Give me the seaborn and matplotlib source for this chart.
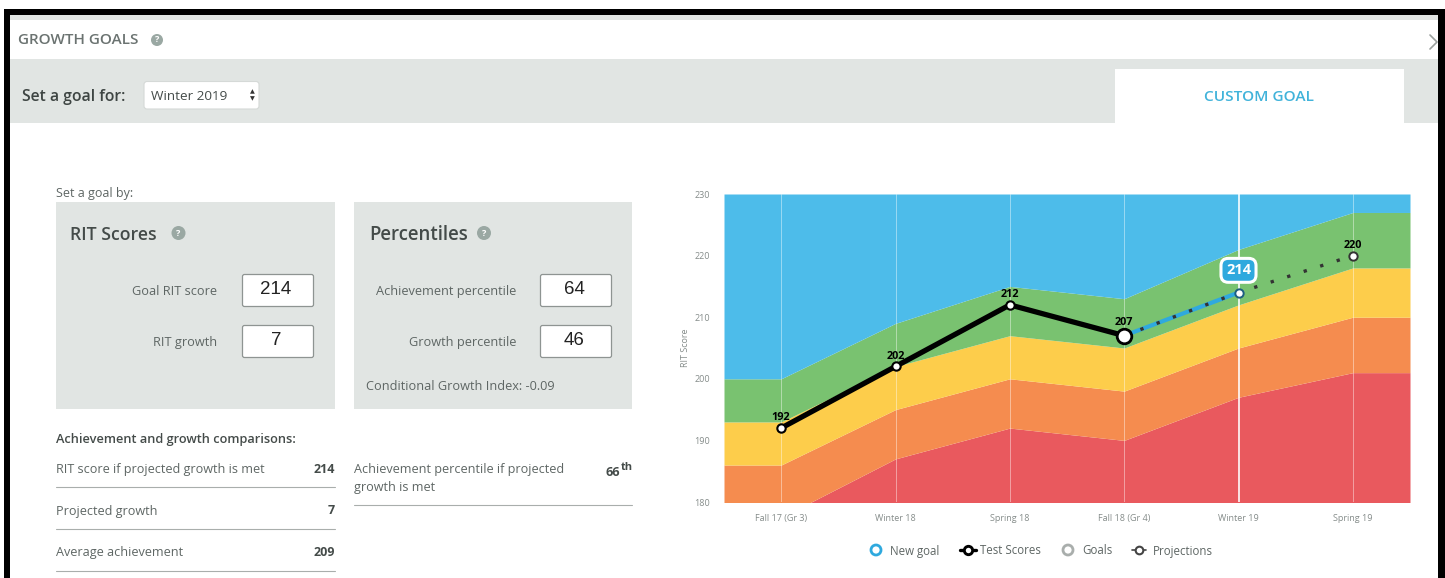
import numpy as np
import matplotlib
matplotlib.use("Agg")
import matplotlib.pyplot as plt
from matplotlib.patches import Rectangle, FancyBboxPatch, Circle
import seaborn as sns

sns.set_style("white")
plt.rcParams['font.family'] = ['Open Sans', 'DejaVu Sans']

# chart data
terms = ["Fall 17 (Gr 3)", "Winter 18", "Spring 18", "Fall 18 (Gr 4)", "Winter 19", "Spring 19"]
red_top = [177.5, 187, 192, 190, 197, 201]
orange_top = [186, 195, 200, 198, 205, 210]
yellow_top = [193, 202, 207, 205, 212, 218]
green_top = [200, 209, 215, 213, 221, 227]
blue_top = [230, 230, 230, 230, 230, 230]
band_colors = ["#E9595E", "#F58C4F", "#FDCD4B", "#79C270", "#4DBCEA"]
test_scores = [192, 202, 212, 207]
goal_scores = [207, 214]
projection_scores = [207, 214, 220]
y_ticks = [180, 190, 200, 210, 220, 230]

# panel text
comparisons_left = [("RIT score if projected growth is met", "214"),
                    ("Projected growth", "7"),
                    ("Average achievement", "209")]
legend_labels = ["New goal", "Test Scores", "Goals", "Projections"]

W, H = 1445, 578
fig = plt.figure(figsize=(W / 100, H / 100), dpi=100, facecolor="white")

# page layer in pixel coordinates
ui = fig.add_axes([0, 0, 1, 1])
ui.set_xlim(0, W)
ui.set_ylim(H, 0)
ui.axis("off")

GREY = "#E1E5E3"
TXT = "#5E6664"


def box(x0, y0, x1, y1, color, **kw):
    ui.add_patch(Rectangle((x0, y0), x1 - x0, y1 - y0, facecolor=color, edgecolor="none", **kw))


def help_icon(x, y, r=6):
    ui.add_patch(Circle((x, y), r, facecolor="#9AA8A3", edgecolor="none"))
    ui.text(x, y, "?", color="white", fontsize=6.5, fontweight="bold", ha="center", va="center")


def input_box(x0, y0, x1, y1, label):
    ui.add_patch(FancyBboxPatch((x0 + 0.5, y0 + 0.5), x1 - x0 - 1, y1 - y0 - 1, boxstyle="round,pad=0,rounding_size=2",
                                facecolor="white", edgecolor="#8E9492", linewidth=0.9))
    ui.text((x0 + x1) / 2 - 2, (y0 + y1) / 2 - 1, label, fontsize=13.5, color="#222222", ha="center", va="center",
            family="Liberation Sans")


# top bars
box(0, 15, W, 20, GREY)
box(0, 59, W, 123, GREY)
box(1115, 69, 1404, 123, "white")

ui.text(18, 40, "GROWTH GOALS", fontsize=11, fontweight="semibold", color="#6B7371", va="center")
help_icon(157, 40)
ui.plot([1430, 1437, 1430], [35, 42, 49], color="#9A9F9D", lw=1.2)
ui.text(22, 97, "Set a goal for:", fontsize=11.3, fontweight="semibold", color="#3E4543", va="center")
ui.add_patch(FancyBboxPatch((144, 81.5), 115, 27.5, boxstyle="round,pad=0,rounding_size=3",
                            facecolor="white", edgecolor="#D5D9D7", linewidth=0.8))
ui.text(151, 96, "Winter 2019", fontsize=9.7, color="#444B49", va="center")
ui.text(252, 91.5, "▲", fontsize=4.5, color="#333333", ha="center", va="center", family="DejaVu Sans")
ui.text(252, 99, "▼", fontsize=4.5, color="#333333", ha="center", va="center", family="DejaVu Sans")
ui.text(1259, 97, "CUSTOM GOAL", fontsize=11.1, fontweight="semibold", color="#41B3DA", ha="center", va="center")

# goal panels
ui.text(56, 194, "Set a goal by:", fontsize=9, color="#5E6664", va="center")
box(56, 202, 335, 409, GREY)
box(354, 202, 632, 409, GREY)
ui.text(70, 234.5, "RIT Scores", fontsize=12.7, fontweight="semibold", color="#444B49", va="center")
help_icon(178.5, 233, 7)
ui.text(369, 234.5, "Percentiles", fontsize=13.4, fontweight="semibold", color="#444B49", va="center")
help_icon(484, 233, 7)

ui.text(217.5, 291.5, "Goal RIT score", fontsize=9.2, color=TXT, ha="right", va="center")
ui.text(217.5, 342.5, "RIT growth", fontsize=9.2, color=TXT, ha="right", va="center")
ui.text(516, 291.5, "Achievement percentile", fontsize=9.2, color=TXT, ha="right", va="center")
ui.text(516, 342.5, "Growth percentile", fontsize=9.2, color=TXT, ha="right", va="center")
input_box(242, 274, 314, 307, "214")
input_box(242, 325, 314, 358, "7")
input_box(540, 274, 612, 307, "64")
input_box(540, 325, 612, 358, "46")
ui.text(366, 386.5, "Conditional Growth Index: -0.09", fontsize=9.2, color=TXT, va="center")

# comparison table
ui.text(56, 439, "Achievement and growth comparisons:", fontsize=9.2, fontweight="semibold", color="#444B49", va="center")
for (label, value), y_text, y_rule in zip(comparisons_left, [469.5, 511, 552.5], [487, 529, 571]):
    ui.text(56, y_text, label, fontsize=9.1, color=TXT, va="center")
    ui.text(335, y_text, value, fontsize=9, fontweight="bold", color="#444B49", ha="right", va="center")
    ui.plot([56, 335], [y_rule, y_rule], color="#A9AEAC", lw=0.8)
ui.text(354, 469.5, "Achievement percentile if projected", fontsize=9.1, color=TXT, va="center")
ui.text(354, 487, "growth is met", fontsize=9.1, color=TXT, va="center")
ui.text(606, 472, "66", fontsize=9, fontweight="bold", color="#444B49", va="center")
ui.text(621, 468, "th", fontsize=8, fontweight="bold", color="#444B49", va="center")
ui.plot([354, 632], [505, 505], color="#A9AEAC", lw=0.8)

# legend row
ui.add_patch(Circle((876, 550), 5, facecolor="white", edgecolor="#2FA9DE", linewidth=2))
ui.text(890, 551, legend_labels[0], fontsize=8.3, color=TXT, va="center")
ui.plot([960, 976], [550, 550], color="black", lw=2.4)
ui.plot([968], [550], marker="o", ms=6, mfc="white", mec="black", mew=2.1)
ui.text(980, 551, legend_labels[1], fontsize=8.3, color=TXT, va="center")
ui.add_patch(Circle((1068, 550), 5, facecolor="white", edgecolor="#A9AEAC", linewidth=2))
ui.text(1082, 551, legend_labels[2], fontsize=8.3, color=TXT, va="center")
ui.plot([1132, 1146], [550, 550], color="#444444", lw=1.2)
ui.plot([1139], [550], marker="o", ms=5.5, mfc="white", mec="#444444", mew=1.5)
ui.text(1153, 551, legend_labels[3], fontsize=8.3, color=TXT, va="center")

# chart
ax = fig.add_axes([724 / W, 1 - 502 / H, 686 / W, 308 / H])
x = np.arange(len(terms))
x_edge = np.r_[x[0] - 0.5, x, x[-1] + 0.5]


def edged(values):
    return np.r_[values[0], values, values[-1]]


lower = np.full(len(x_edge), 170.0)
for top, color in zip([red_top, orange_top, yellow_top, green_top, blue_top], band_colors):
    upper = edged(top)
    ax.fill_between(x_edge, lower, upper, color=color, lw=0, zorder=1)
    lower = upper

for i in x:
    ax.axvline(i, color="white", lw=1.3 if i == 4 else 0.6, alpha=0.9 if i == 4 else 0.5, zorder=2)

sns.lineplot(x=x[3:5], y=goal_scores, ax=ax, color="#2FA9DE", lw=3, zorder=3)
sns.lineplot(x=x[3:], y=projection_scores, ax=ax, color="#333333", lw=2.4, zorder=4,
             linestyle=(0, (1, 4.2)))
sns.lineplot(x=x[:4], y=test_scores, ax=ax, color="black", lw=3.8, zorder=5)

ax.plot(x[:3], test_scores[:3], ls="none", marker="o", ms=6, mfc="white", mec="black", mew=1.5, zorder=6)
ax.plot(x[3], test_scores[3], ls="none", marker="o", ms=10.5, mfc="white", mec="black", mew=2, zorder=6)
ax.plot(x[4], goal_scores[1], ls="none", marker="o", ms=6, mfc="white", mec="#1D5E80", mew=1.4, zorder=6)
ax.plot(x[5], projection_scores[2], ls="none", marker="o", ms=6, mfc="white", mec="#333333", mew=1.4, zorder=6)

for i, v, dy in zip([0, 1, 2, 3, 5], [192, 202, 212, 207, 220], [3.5, 3.5, 3.5, 5.5, 3.5]):
    ax.annotate(str(v), (i, v), xytext=(0, dy), textcoords="offset points", ha="center", va="bottom",
                fontsize=7.8, fontweight="bold", color="black", zorder=7)
ax.annotate("214", (4, 214), xytext=(0, 16), textcoords="offset points", ha="center", va="center",
            fontsize=10.5, fontweight="bold", color="white", zorder=8,
            bbox=dict(boxstyle="round,pad=0.34,rounding_size=0.5", facecolor="#2FA9DE", edgecolor="white", lw=2.2))

ax.set_xlim(-0.5, 5.5)
ax.set_ylim(180, 230)
ax.set_yticks(y_ticks)
ax.set_xticks(x, terms)
ax.tick_params(axis="both", length=0, labelsize=6.5, labelcolor="#858C8A")
ax.tick_params(axis="x", pad=8.5)
ax.tick_params(axis="y", pad=10)
ax.set_ylabel("RIT Score", fontsize=6.5, color="#858C8A", labelpad=3)
sns.despine(ax=ax, left=True, bottom=True, top=True, right=True)

# screenshot frame on top of everything
top = fig.add_axes([0, 0, 1, 1], facecolor="none")
top.set_xlim(0, W)
top.set_ylim(H, 0)
top.axis("off")
top.add_patch(Rectangle((4, 9), W, 6, facecolor="black", edgecolor="none"))
top.add_patch(Rectangle((4, 9), 6, H, facecolor="black", edgecolor="none"))
top.add_patch(Rectangle((1438, 9), 7, H, facecolor="black", edgecolor="none"))
top.add_patch(Rectangle((0, 0), 4, H, facecolor="white", edgecolor="none"))
top.add_patch(Rectangle((0, 0), W, 9, facecolor="white", edgecolor="none"))

fig.savefig("out.png", dpi=100)
